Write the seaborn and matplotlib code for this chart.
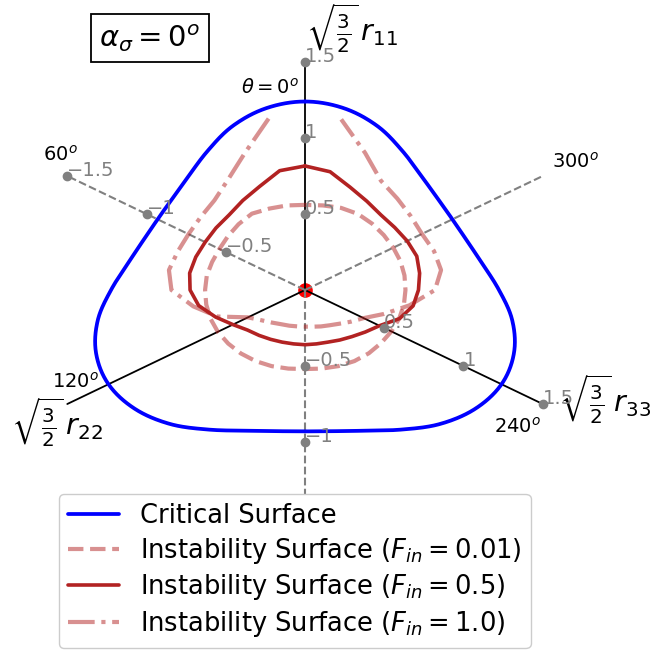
import numpy as np
import matplotlib
matplotlib.use("Agg")
import matplotlib.pyplot as plt
import seaborn as sns

sns.set_style("white")
plt.rcParams["font.family"] = ["DejaVu Sans"]
plt.rcParams["mathtext.fontset"] = "dejavusans"
plt.rcParams["text.color"] = "black"

# Lode angle grid in degrees (0 = +r11 axis, counter-clockwise)
theta_deg = list(range(0, 360, 10))

# Radius of the critical surface in the deviatoric plane
critical_r = [1.24, 1.215, 1.15, 1.06, 0.985, 0.943, 0.93, 0.943, 0.985, 1.06, 1.15, 1.215,
              1.24, 1.215, 1.15, 1.06, 0.985, 0.943, 0.93, 0.943, 0.985, 1.06, 1.15, 1.215,
              1.24, 1.215, 1.15, 1.06, 0.985, 0.943, 0.93, 0.943, 0.985, 1.06, 1.15, 1.215]

# Instability surface, F_in = 0.01
inst_001_r = [0.56, 0.565, 0.57, 0.58, 0.565, 0.55, 0.54, 0.54, 0.545, 0.546, 0.548, 0.55,
              0.55, 0.548, 0.545, 0.54, 0.533, 0.525, 0.52, 0.525, 0.533, 0.54, 0.543, 0.543,
              0.545, 0.548, 0.549, 0.549, 0.552, 0.555, 0.557, 0.562, 0.57, 0.578, 0.575, 0.565]

# Instability surface, F_in = 0.5
inst_05_r = [0.816, 0.797, 0.725, 0.68, 0.645, 0.635, 0.63, 0.635, 0.64, 0.628, 0.59, 0.52,
             0.455, 0.41, 0.39, 0.375, 0.365, 0.36, 0.36, 0.36, 0.365, 0.38, 0.40, 0.43,
             0.47, 0.55, 0.60, 0.62, 0.636, 0.65, 0.645, 0.64, 0.645, 0.675, 0.72, 0.79]

# Instability surface, F_in = 1.0 (no solution at theta = 0)
inst_10_theta = list(range(10, 360, 10))
inst_10_r = [1.145, 0.96, 0.84, 0.77, 0.745, 0.735, 0.74, 0.755, 0.73, 0.62, 0.51,
             0.36, 0.31, 0.28, 0.26, 0.25, 0.243, 0.241, 0.245, 0.255, 0.268, 0.29, 0.325,
             0.37, 0.46, 0.58, 0.71, 0.755, 0.75, 0.738, 0.755, 0.785, 0.83, 0.96, 1.14]

tick_vals_pos = [0.5, 1, 1.5]
tick_vals_neg = [-0.5, -1, -1.5]
tick_text_pos = ["0.5", "1", "1.5"]
tick_text_neg = ["\u22120.5", "\u22121", "\u22121.5"]

# pixel -> data mapping of the drawing area
SX, SY, CX, CY = 183.0, 152.0, 305.0, 290.0
W, H = 650, 652


def polar_xy(th_deg, r):
    th = np.radians(np.asarray(th_deg, dtype=float))
    r = np.asarray(r, dtype=float)
    return -r * np.sin(th), r * np.cos(th)


def px(xp, yp):
    return (xp - CX) / SX, (CY - yp) / SY


def smooth_closed(th_deg, r, n=24):
    """Periodic Catmull-Rom curve through (theta, r) samples."""
    th = np.asarray(th_deg, dtype=float)
    r = np.asarray(r, dtype=float)
    m = len(r)
    tt, rr = [], []
    for i in range(m):
        p0, p1, p2, p3 = r[(i - 1) % m], r[i], r[(i + 1) % m], r[(i + 2) % m]
        t = np.linspace(0, 1, n, endpoint=False)
        seg = 0.5 * ((2 * p1) + (-p0 + p2) * t + (2 * p0 - 5 * p1 + 4 * p2 - p3) * t ** 2
                     + (-p0 + 3 * p1 - 3 * p2 + p3) * t ** 3)
        tt.append(th[i] + 10.0 * t)
        rr.append(seg)
    tt = np.concatenate(tt + [[th[0] + 360.0]])
    rr = np.concatenate(rr + [[r[0]]])
    return tt, rr


fig = plt.figure(figsize=(W / 100, H / 100), dpi=100)
ax = fig.add_axes([0, 0, 1, 1])
ax.set_xlim(-CX / SX, (W - CX) / SX)
ax.set_ylim(-(H - CY) / SY, CY / SY)
ax.axis("off")

# centre marker
ax.plot([0], [0], "o", color="red", ms=9.5, zorder=1)

# positive axes (solid) and their negatives (dashed)
for ang in (0, 120, 240):
    x, y = polar_xy([ang, ang], [0, 1.5])
    ax.plot(x, y, color="black", lw=1.3, zorder=2)
for ang in (60, 180, 300):
    x, y = polar_xy([ang, ang], [0, 1.5])
    ax.plot(x, y, color="gray", lw=1.5, ls="--", zorder=2)

# curves
tt, rr = smooth_closed(theta_deg, critical_r)
x, y = polar_xy(tt, rr)
sns.lineplot(x=x, y=y, sort=False, estimator=None, color="blue", lw=2.7,
             label="Critical Surface", ax=ax, zorder=3)

x, y = polar_xy(theta_deg + [360], inst_001_r + inst_001_r[:1])
sns.lineplot(x=x, y=y, sort=False, estimator=None, color="firebrick", alpha=0.5, lw=3,
             ls="--", label=r"Instability Surface ($F_{in}=0.01$)", ax=ax, zorder=3)

x, y = polar_xy(theta_deg + [360], inst_05_r + inst_05_r[:1])
sns.lineplot(x=x, y=y, sort=False, estimator=None, color="firebrick", lw=2.6,
             label=r"Instability Surface ($F_{in}=0.5$)", ax=ax, zorder=3)

x, y = polar_xy(inst_10_theta, inst_10_r)
sns.lineplot(x=x, y=y, sort=False, estimator=None, color="firebrick", alpha=0.5, lw=3,
             ls="-.", label=r"Instability Surface ($F_{in}=1.0$)", ax=ax, zorder=3)

# axis ticks: dots with grey labels (r11 both ways, r33 both ways)
tick_sets = [
    (0, tick_vals_pos, tick_text_pos),
    (0, tick_vals_neg[:2], tick_text_neg[:2]),
    (240, tick_vals_neg, tick_text_neg),
    (240, tick_vals_pos, tick_text_pos),
]
for ang, vals, texts in tick_sets:
    x, y = polar_xy([ang] * len(vals), vals)
    ax.plot(x, y, "o", color="gray", ms=6, zorder=4)
    for xi, yi, s in zip(x, y, texts):
        ax.text(xi, yi, s, color="gray", fontsize=14, ha="left", va="baseline", zorder=4)

# axis names
lab = dict(fontsize=20.5, ha="center", va="center")
ax.text(*px(352, 28), r"$\sqrt{\frac{3}{2}}\,r_{11}$", **lab)
ax.text(*px(57, 422), r"$\sqrt{\frac{3}{2}}\,r_{22}$", **lab)
ax.text(*px(605, 399), r"$\sqrt{\frac{3}{2}}\,r_{33}$", **lab)

# Lode angle labels
ang_kw = dict(fontsize=14, ha="center", va="center")
ax.text(*px(270, 88), r"$\theta=0^o$", **ang_kw)
ax.text(*px(60, 155), r"$60^o$", **ang_kw)
ax.text(*px(76, 382), r"$120^o$", **ang_kw)
ax.text(*px(518, 427), r"$240^o$", **ang_kw)
ax.text(*px(576, 162), r"$300^o$", **ang_kw)

ax.text(*px(150, 38), r"$\alpha_\sigma = 0^o$", fontsize=21, ha="center", va="center",
        bbox=dict(boxstyle="square,pad=0.3", fc="white", ec="black", lw=1.3))

leg = ax.legend(loc="lower left", bbox_to_anchor=(59 / W, 4 / H), bbox_transform=fig.transFigure,
                borderaxespad=0, fontsize=18.5, framealpha=1, handlelength=2.0,
                labelspacing=0.26, borderpad=0.35)
for t in leg.get_texts():
    t.set_color("black")

fig.savefig("out.png", dpi=100)
